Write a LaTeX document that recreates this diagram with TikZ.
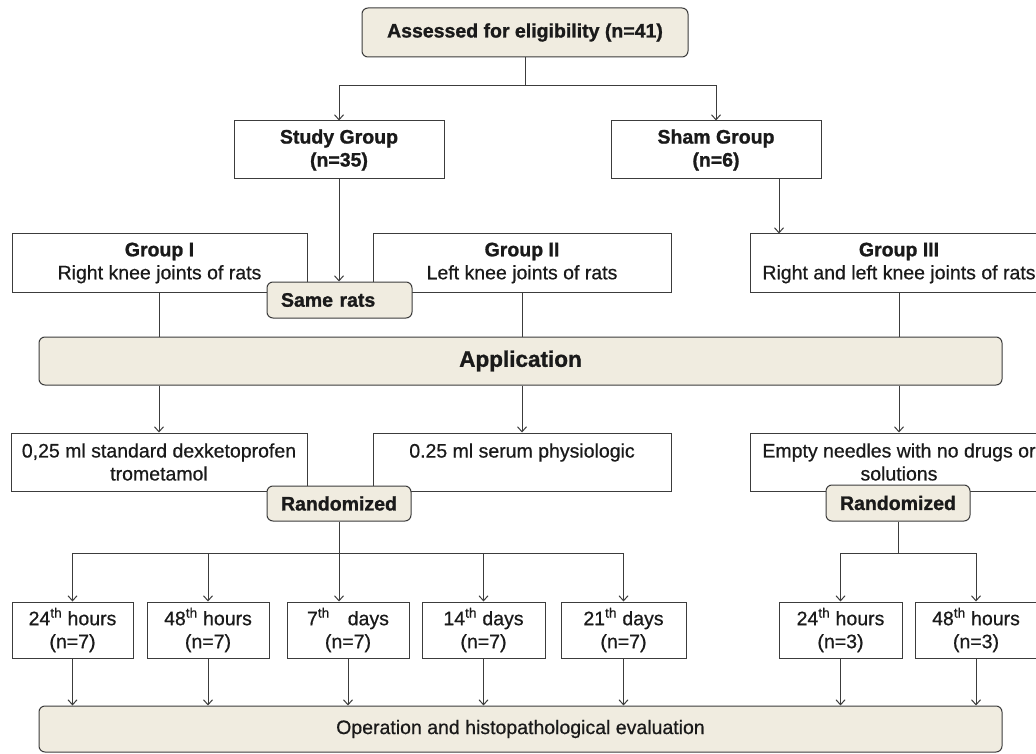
\documentclass[tikz,border=0pt]{standalone}
\usepackage{fontspec}
\setmainfont{Liberation Sans}[UprightFeatures={FakeBold=0.6},BoldFeatures={FakeBold=1.2}]
\usetikzlibrary{arrows.meta}
\definecolor{beige}{HTML}{F0ECE0}
\definecolor{ln}{HTML}{3C3C3C}
\definecolor{tx}{HTML}{1A1A1A}
\newcommand\fsz{\fontsize{19.5}{23}\selectfont}
\begin{document}
\begin{tikzpicture}[x=1pt,y=-1pt,
  box/.style={draw=ln,line width=1pt,fill=white,text=tx,align=center,inner sep=0pt,font=\fsz},
  rbox/.style={box,fill=beige,rounded corners=6pt,font=\fsz\bfseries},
  bbox/.style={box,font=\fsz\bfseries},
  conn/.style={draw=ln,line width=1pt},
  arr/.style={conn,-{Straight Barb[length=5pt,width=9pt]}}]
\useasboundingbox (0,0) rectangle (1036,754);
\clip (0,0) rectangle (1036,754);
\fill[white] (0,0) rectangle (1036,754);

% top part
\node[rbox,minimum width=326,minimum height=49] (top) at (525,32.5) {Assessed for eligibility (n=41)};
\node[bbox,minimum width=210,minimum height=58] (study) at (339,150) {Study Group\\(n=35)};
\node[bbox,minimum width=210,minimum height=58] (sham) at (716,150) {Sham Group\\(n=6)};

% groups
\node[box,minimum width=295,minimum height=58] (g1) at (159.5,263) {\textbf{Group I}\\Right knee joints of rats};
\node[box,minimum width=298,minimum height=58] (g2) at (522,263) {\textbf{Group II}\\Left knee joints of rats};
\node[box,minimum width=298,minimum height=58] (g3) at (899,263) {\textbf{Group III}\\Right and left knee joints of rats};
\node[rbox,minimum height=36,text width=117,align=left,inner xsep=14pt] (same) at (339.5,300) {Same rats};

\node[rbox,font=\fontsize{22.5}{26}\selectfont\bfseries,minimum width=963,minimum height=48] (app) at (520.5,361) {Application};

% applications
\node[box,minimum width=296,minimum height=58] (m1) at (159,462) {0,25 ml standard dexketoprofen\\trometamol};
\node[box,minimum width=298,minimum height=58] (m2) at (522,462) {0.25 ml serum physiologic\\\mbox{}};
\node[box,minimum width=298,minimum height=58] (m3) at (899,462) {Empty needles with no drugs or\\solutions};

\node[rbox,minimum width=144,minimum height=35] (r1) at (339,503.5) {Randomized};
\node[rbox,minimum width=144,minimum height=36] (r2) at (898,503) {Randomized};

% time points
\node[box,minimum width=121,minimum height=56] (b1) at (72.5,630) {24\textsuperscript{th} hours\\(n=7)};
\node[box,minimum width=122,minimum height=56] (b2) at (208,630) {48\textsuperscript{th} hours\\(n=7)};
\node[box,minimum width=122,minimum height=56] (b3) at (348,630) {7\textsuperscript{th}\hspace*{18pt}days\\(n=7)};
\node[box,minimum width=123,minimum height=56] (b4) at (483.5,630) {14\textsuperscript{th} days\\(n=7)};
\node[box,minimum width=125,minimum height=56] (b5) at (623.5,630) {21\textsuperscript{th} days\\(n=7)};
\node[box,minimum width=123,minimum height=56] (b6) at (840.5,630) {24\textsuperscript{th} hours\\(n=3)};
\node[box,minimum width=122,minimum height=56] (b7) at (976,630) {48\textsuperscript{th} hours\\(n=3)};

\node[rbox,font=\fsz,minimum width=963,minimum height=46] (op) at (520.5,729) {Operation and histopathological evaluation};

% connectors
\coordinate (t1) at (525,86);
\draw[conn] (top.south) -- (t1);
\draw[arr] (t1) -| (study.north);
\draw[arr] (t1) -| (sham.north);
\draw[arr] (study.south) -- (study.south |- same.north);
\draw[arr] ([xshift=63pt]sham.south) -- ([xshift=63pt]sham.south |- g3.north);

\draw[conn] (g1.south) -- (g1.south |- app.north);
\draw[conn] (g2.south) -- (g2.south |- app.north);
\draw[conn] (g3.south) -- (g3.south |- app.north);

\draw[arr] (app.south -| m1.north) -- (m1.north);
\draw[arr] (app.south -| m2.north) -- (m2.north);
\draw[arr] (app.south -| m3.north) -- (m3.north);

\coordinate (h1) at (339,553);
\draw[conn] (r1.south) -- (h1);
\draw[arr] (h1) -| (b1.north);
\draw[arr] (h1) -| (b2.north);
\draw[arr] (h1) -- (h1 |- b3.north);
\draw[arr] (h1) -| (b4.north);
\draw[arr] (h1) -| (b5.north);

\coordinate (h2) at (898,553);
\draw[conn] (r2.south) -- (h2);
\draw[arr] (h2) -| (b6.north);
\draw[arr] (h2) -| (b7.north);

\foreach \b in {b1,b2,b3,b4,b5,b6,b7}
  \draw[arr] (\b.south) -- (\b.south |- op.north);
\end{tikzpicture}
\end{document}
